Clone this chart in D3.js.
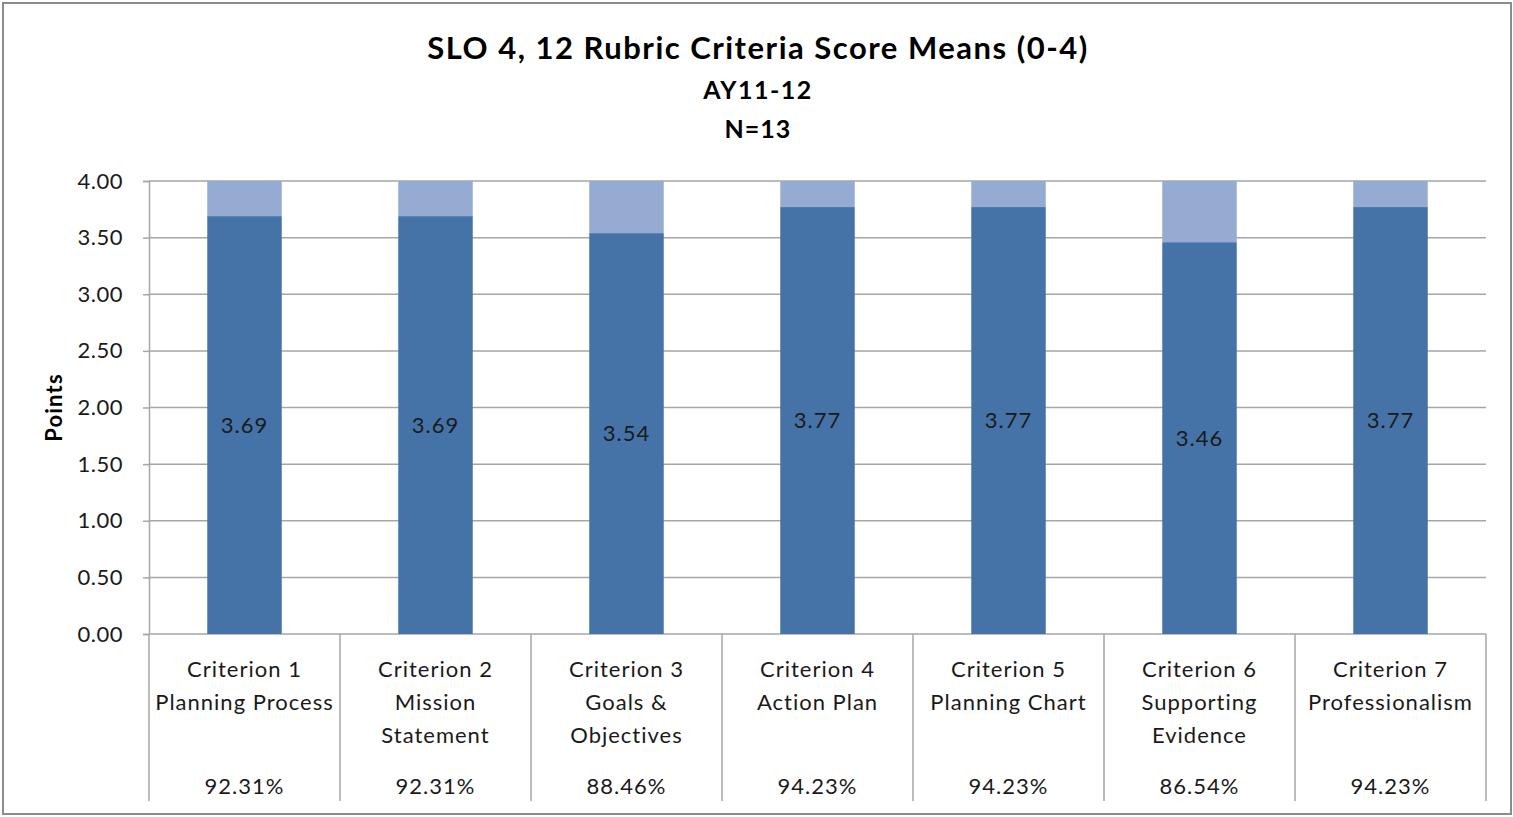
<!DOCTYPE html>
<html>
<head>
<meta charset="utf-8">
<script src="https://cdn.jsdelivr.net/npm/d3@7"></script>
<style>
  body { margin: 0; background: #fff; }
  svg text { font-family: Lato, "Open Sans", sans-serif; }
</style>
</head>
<body>
<svg id="chart" width="1513" height="817"></svg>
<script>
var categories = [
  ['Criterion 1', 'Planning Process'],
  ['Criterion 2', 'Mission', 'Statement'],
  ['Criterion 3', 'Goals &', 'Objectives'],
  ['Criterion 4', 'Action Plan'],
  ['Criterion 5', 'Planning Chart'],
  ['Criterion 6', 'Supporting', 'Evidence'],
  ['Criterion 7', 'Professionalism']
];
var means = [3.69, 3.69, 3.54, 3.77, 3.77, 3.46, 3.77];
var remainders = [0.31, 0.31, 0.46, 0.23, 0.23, 0.54, 0.23];
var percents = ['92.31%', '92.31%', '88.46%', '94.23%', '94.23%', '86.54%', '94.23%'];
var yTicks = [0, 0.5, 1, 1.5, 2, 2.5, 3, 3.5, 4];

var svg = d3.select('#chart');
var width = 1513, height = 817;

var margins = {top: 181, bottom: 183, left: 149, right: 27};

// outer frame
svg.append('rect')
  .attr('x', 3).attr('y', 3)
  .attr('width', width - 5).attr('height', height - 6)
  .attr('fill', 'none')
  .attr('stroke', '#8c8c8c')
  .attr('stroke-width', 2);

var x = d3.scaleBand()
  .domain(d3.range(categories.length))
  .range([margins.left, width - margins.right])
  .paddingInner(0)
  .paddingOuter(0);

var y = d3.scaleLinear()
  .domain([0, 4])
  .range([height - margins.bottom, margins.top]);

// gridlines
svg.append('g')
  .selectAll('line')
  .data(yTicks)
  .enter()
  .append('line')
  .attr('x1', margins.left)
  .attr('x2', width - margins.right)
  .attr('y1', function(d) { return y(d); })
  .attr('y2', function(d) { return y(d); })
  .attr('stroke', '#a6a6a6')
  .attr('stroke-width', 1.5);

// y axis
var yAxis = svg.append('g')
  .attr('transform', 'translate(' + margins.left + ',0)')
  .call(d3.axisLeft(y).tickValues(yTicks).tickSize(6).tickPadding(20)
    .tickFormat(d3.format('.2f')));
yAxis.select('.domain').attr('stroke', '#a6a6a6').attr('stroke-width', 1.5);
yAxis.selectAll('.tick line').attr('stroke', '#a6a6a6').attr('stroke-width', 1.5);
yAxis.selectAll('.tick text')
  .attr('font-size', '22px')
  .attr('fill', '#1a1a1a')
  .style('letter-spacing', '0.5px')
  .style('font-family', 'Lato, sans-serif');

// category separators below the axis
var sepX = d3.range(categories.length + 1).map(function(i) {
  return i < categories.length ? x(i) : x(categories.length - 1) + x.bandwidth();
});
svg.append('g')
  .selectAll('line')
  .data(sepX)
  .enter()
  .append('line')
  .attr('x1', function(d) { return d; })
  .attr('x2', function(d) { return d; })
  .attr('y1', y(0))
  .attr('y2', 801)
  .attr('stroke', '#a6a6a6')
  .attr('stroke-width', 1.5);

var barW = x.bandwidth() * 0.39;

// dark series: means
svg.append('g')
  .selectAll('rect')
  .data(means)
  .enter()
  .append('rect')
  .attr('x', function(d, i) { return x(i) + (x.bandwidth() - barW) / 2; })
  .attr('y', function(d) { return y(d); })
  .attr('width', barW)
  .attr('height', function(d) { return y(0) - y(d); })
  .attr('fill', '#4573a7');

// light series: remainder to 4
svg.append('g')
  .selectAll('rect')
  .data(remainders)
  .enter()
  .append('rect')
  .attr('x', function(d, i) { return x(i) + (x.bandwidth() - barW) / 2; })
  .attr('y', function(d, i) { return y(means[i] + d); })
  .attr('width', barW)
  .attr('height', function(d, i) { return y(means[i]) - y(means[i] + d); })
  .attr('fill', '#95abd1');

// value labels
svg.append('g')
  .selectAll('text')
  .data(means)
  .enter()
  .append('text')
  .attr('x', function(d, i) { return x(i) + x.bandwidth() / 2; })
  .attr('y', function(d) { return y(d / 2); })
  .attr('dy', '0.35em')
  .attr('text-anchor', 'middle')
  .attr('font-size', '22px')
  .attr('fill', '#1a1a1a')
  .style('letter-spacing', '1px')
  .text(function(d) { return d.toFixed(2); });

// category labels
var catG = svg.append('g');
categories.forEach(function(lines, i) {
  var t = catG.append('text')
    .attr('text-anchor', 'middle')
    .attr('font-size', '22px')
    .attr('fill', '#1a1a1a')
    .style('letter-spacing', '1px');
  lines.forEach(function(s, j) {
    t.append('tspan')
      .attr('x', x(i) + x.bandwidth() / 2)
      .attr('y', 677 + j * 33)
      .text(s);
  });
  catG.append('text')
    .attr('x', x(i) + x.bandwidth() / 2)
    .attr('y', 794)
    .attr('text-anchor', 'middle')
    .attr('font-size', '22px')
    .attr('fill', '#1a1a1a')
    .style('letter-spacing', '1px')
    .text(percents[i]);
});

// titles
svg.append('text')
  .attr('x', 758).attr('y', 59)
  .attr('text-anchor', 'middle')
  .attr('font-size', '31px')
  .attr('font-weight', 'bold')
  .attr('fill', '#000')
  .style('letter-spacing', '1.5px')
  .text('SLO 4, 12 Rubric Criteria Score Means (0-4)');
svg.append('text')
  .attr('x', 758).attr('y', 99)
  .attr('text-anchor', 'middle')
  .attr('font-size', '25px')
  .attr('font-weight', 'bold')
  .attr('fill', '#000')
  .style('letter-spacing', '1.5px')
  .text('AY11-12');
svg.append('text')
  .attr('x', 758).attr('y', 138)
  .attr('text-anchor', 'middle')
  .attr('font-size', '25px')
  .attr('font-weight', 'bold')
  .attr('fill', '#000')
  .style('letter-spacing', '1px')
  .text('N=13');

// y axis title
svg.append('text')
  .attr('transform', 'translate(62,' + y(2) + ') rotate(-90)')
  .attr('text-anchor', 'middle')
  .attr('font-size', '22px')
  .attr('font-weight', 'bold')
  .attr('fill', '#000')
  .style('letter-spacing', '1.2px')
  .text('Points');
</script>
</body>
</html>
